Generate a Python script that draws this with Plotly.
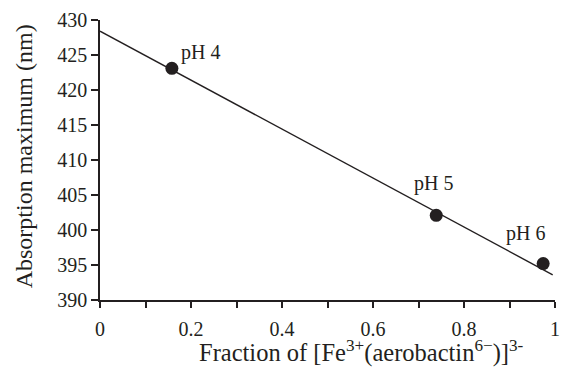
import plotly.graph_objects as go

# Data
fraction = [0.158, 0.739, 0.974]
abs_max = [423.1, 402.1, 395.2]
labels = ["pH 4", "pH 5", "pH 6"]
fit_x = [0.0, 0.995]
fit_y = [428.4, 393.6]
x_ticks = [0, 0.2, 0.4, 0.6, 0.8, 1]
x_ticklabels = ["0", "0.2", "0.4", "0.6", "0.8", "1"]
y_ticks = [390, 395, 400, 405, 410, 415, 420, 425, 430]
x_title = "Fraction of [Fe<sup>3+</sup>(aerobactin<sup>6−</sup>)]<sup>3-</sup>"
y_title = "Absorption maximum (nm)"

FONT = "Liberation Serif, serif"
INK = "#231f20"

fig = go.Figure()
fig.add_trace(go.Scatter(x=fit_x, y=fit_y, mode="lines",
                         line=dict(color=INK, width=1.4), hoverinfo="skip",
                         showlegend=False))
fig.add_trace(go.Scatter(x=fraction, y=abs_max, mode="markers",
                         marker=dict(color=INK, size=13), showlegend=False))

label_shifts = [(29, 16), (-3, 32), (-18, 30)]
for xv, yv, t, (dx, dy) in zip(fraction, abs_max, labels, label_shifts):
    fig.add_annotation(x=xv, y=yv, text=t, showarrow=False,
                       xshift=dx, yshift=dy,
                       font=dict(family=FONT, size=20, color=INK))

fig.add_annotation(xref="paper", yref="paper", x=-0.1674, y=0.5125,
                   text=y_title, textangle=-90, showarrow=False,
                   xanchor="center", yanchor="middle",
                   font=dict(family=FONT, size=24, color=INK))
fig.add_annotation(xref="paper", yref="paper", x=0.574, y=-0.245,
                   text=x_title, showarrow=False,
                   xanchor="center", yanchor="bottom",
                   font=dict(family=FONT, size=24.5, color=INK))

fig.update_layout(
    width=564, height=370,
    margin=dict(l=100, r=4, t=20, b=70),
    paper_bgcolor="white", plot_bgcolor="white",
    font=dict(family=FONT, color=INK),
    xaxis=dict(range=[0, 1], tickvals=x_ticks, ticktext=x_ticklabels,
               ticks="outside", ticklen=6, tickwidth=1.5, tickcolor=INK,
               showline=True, linecolor=INK, linewidth=1.5,
               showgrid=False, zeroline=False, ticklabeloverflow="allow",
               tickfont=dict(family=FONT, size=20, color=INK),
               ticklabelstandoff=4,
               minor=dict(dtick=0.1, ticks="outside", ticklen=6, tickwidth=1.5,
                          tickcolor=INK, showgrid=False)),
    yaxis=dict(range=[390, 430], tickvals=y_ticks,
               ticks="outside", ticklen=7, tickwidth=1.5, tickcolor=INK,
               showline=True, linecolor=INK, linewidth=1.5,
               showgrid=False, zeroline=False,
               tickfont=dict(family=FONT, size=20, color=INK),
               ticklabelstandoff=0),
)

fig.write_html("out.html")
